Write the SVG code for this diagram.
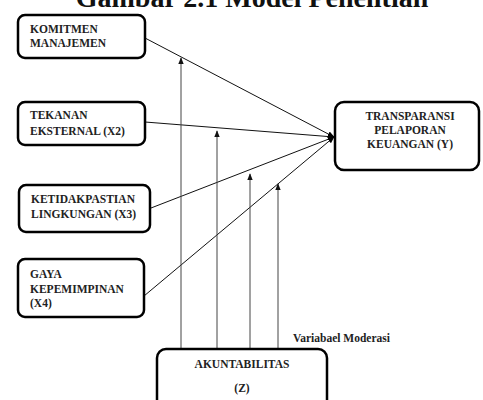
<svg xmlns="http://www.w3.org/2000/svg" width="483" height="400" viewBox="0 0 483 400">
<defs>
<style>
.box{fill:#fff;stroke:#000;stroke-width:2.5}
.t{font-family:"Liberation Serif",serif;font-weight:bold;font-size:11.5px;fill:#222}
.c{text-anchor:middle}
.d{stroke:#111;stroke-width:1;fill:none}
.v{stroke:#444;stroke-width:1;fill:none}
</style>
<marker id="ah" viewBox="0 0 10 10" refX="9" refY="5" markerWidth="7" markerHeight="7" orient="auto" markerUnits="userSpaceOnUse">
<path d="M0,1 L10,5 L0,9 Z" fill="#000"/>
</marker>
<marker id="av" viewBox="0 0 10 10" refX="9" refY="5" markerWidth="7" markerHeight="7" orient="auto" markerUnits="userSpaceOnUse">
<path d="M0,1 L10,5 L0,9 Z" fill="#111"/>
</marker>
</defs>
<rect width="483" height="400" fill="#fff"/>
<text x="252" y="7" text-anchor="middle" font-family="Liberation Serif, serif" font-weight="bold" font-size="28" fill="#111">Gambar 2.1 Model Penelitian</text>
<g id="connectors">
<line class="d" x1="145" y1="38" x2="334" y2="137" marker-end="url(#ah)"/>
<line class="d" x1="145" y1="122" x2="334" y2="137" marker-end="url(#ah)"/>
<line class="d" x1="151" y1="208" x2="334" y2="137" marker-end="url(#ah)"/>
<line class="d" x1="144" y1="296" x2="334" y2="137" marker-end="url(#ah)"/>
<line class="v" x1="181" y1="349" x2="181" y2="58" marker-end="url(#av)"/>
<line class="v" x1="217" y1="349" x2="217" y2="131" marker-end="url(#av)"/>
<line class="v" x1="250" y1="349" x2="250" y2="174" marker-end="url(#av)"/>
<line class="v" x1="278" y1="349" x2="278" y2="184" marker-end="url(#av)"/>
</g>
<g id="komitmen">
<rect class="box" x="18" y="15" width="127" height="43" rx="7"/>
<text class="t" x="30" y="33">KOMITMEN</text>
<text class="t" x="30" y="47">MANAJEMEN</text>
</g>
<g id="tekanan">
<rect class="box" x="18" y="102" width="127" height="43" rx="7"/>
<text class="t" x="30" y="119">TEKANAN</text>
<text class="t" x="30" y="135">EKSTERNAL (X2)</text>
</g>
<g id="ketidakpastian">
<rect class="box" x="19" y="185" width="131" height="47" rx="7"/>
<text class="t" x="31" y="203">KETIDAKPASTIAN</text>
<text class="t" x="31" y="218">LINGKUNGAN (X3)</text>
</g>
<g id="gaya">
<rect class="box" x="18" y="259" width="126" height="58" rx="7"/>
<text class="t" x="30" y="278">GAYA</text>
<text class="t" x="30" y="293">KEPEMIMPINAN</text>
<text class="t" x="30" y="307">(X4)</text>
</g>
<g id="transparansi">
<rect class="box" x="335" y="102" width="144" height="68" rx="9"/>
<text class="t c" x="410" y="120">TRANSPARANSI</text>
<text class="t c" x="410" y="134">PELAPORAN</text>
<text class="t c" x="410" y="148">KEUANGAN (Y)</text>
</g>
<g id="akuntabilitas">
<rect class="box" x="157" y="349" width="170" height="60" rx="9"/>
<text class="t c" x="242" y="368">AKUNTABILITAS</text>
<text class="t c" x="242" y="392">(Z)</text>
</g>
<text class="t" x="293" y="342">Variabael Moderasi</text>
</svg>
